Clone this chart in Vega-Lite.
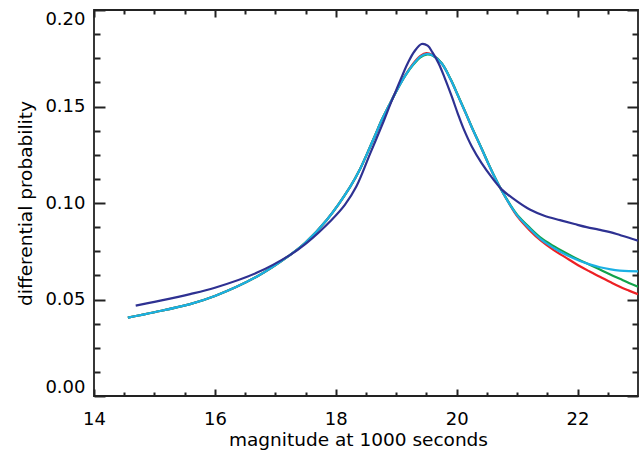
{
"$schema": "https://vega.github.io/schema/vega-lite/v6.json",
"width": 544, "height": 386,
"autosize": {"type": "none"},
"padding": {"left": 94, "top": 10, "right": 4, "bottom": 56},
"background": "white",
"config": {
  "view": {"stroke": "#222", "strokeWidth": 1.8},
  "axis": {"labelFont": "DejaVu Sans", "titleFont": "DejaVu Sans", "labelFontSize": 18, "titleFontSize": 18.5, "titleFontWeight": "normal", "labelColor": "#000", "titleColor": "#000", "domain": false, "grid": false}
},
"datasets": {
"curves": [
{"s":"red","m":14.56,"v":0.0406},{"s":"red","m":15.0,"v":0.0434},{"s":"red","m":15.59,"v":0.0476},{"s":"red","m":16.0,"v":0.0518},{"s":"red","m":16.69,"v":0.0618},{"s":"red","m":17.24,"v":0.0730},{"s":"red","m":17.5,"v":0.0795},{"s":"red","m":17.85,"v":0.0912},{"s":"red","m":18.24,"v":0.1085},{"s":"red","m":18.4,"v":0.1175},{"s":"red","m":18.52,"v":0.1257},{"s":"red","m":18.65,"v":0.135},{"s":"red","m":18.76,"v":0.143},{"s":"red","m":18.88,"v":0.1505},{"s":"red","m":19.02,"v":0.159},{"s":"red","m":19.15,"v":0.1662},{"s":"red","m":19.28,"v":0.1722},{"s":"red","m":19.4,"v":0.1762},{"s":"red","m":19.5,"v":0.1777},{"s":"red","m":19.6,"v":0.1767},{"s":"red","m":19.75,"v":0.1724},{"s":"red","m":19.9,"v":0.164},{"s":"red","m":20.03,"v":0.155},{"s":"red","m":20.15,"v":0.1465},{"s":"red","m":20.27,"v":0.1378},{"s":"red","m":20.4,"v":0.129},{"s":"red","m":20.52,"v":0.1206},{"s":"red","m":20.63,"v":0.1133},{"s":"red","m":20.74,"v":0.1067},{"s":"red","m":20.87,"v":0.0996},{"s":"red","m":21.0,"v":0.0932},{"s":"red","m":21.21,"v":0.0858},{"s":"red","m":21.4,"v":0.0803},{"s":"red","m":21.6,"v":0.0757},{"s":"red","m":21.8,"v":0.0718},{"s":"red","m":22.04,"v":0.0672},{"s":"red","m":22.2,"v":0.0645},{"s":"red","m":22.37,"v":0.0618},{"s":"red","m":22.55,"v":0.0589},{"s":"red","m":22.7,"v":0.0566},{"s":"red","m":22.85,"v":0.0546},{"s":"red","m":23.0,"v":0.0527},
{"s":"green","m":14.56,"v":0.0406},{"s":"green","m":15.0,"v":0.0434},{"s":"green","m":15.59,"v":0.0476},{"s":"green","m":16.0,"v":0.0518},{"s":"green","m":16.69,"v":0.0618},{"s":"green","m":17.24,"v":0.0730},{"s":"green","m":17.5,"v":0.0795},{"s":"green","m":17.85,"v":0.0912},{"s":"green","m":18.24,"v":0.1085},{"s":"green","m":18.4,"v":0.1175},{"s":"green","m":18.52,"v":0.1257},{"s":"green","m":18.65,"v":0.135},{"s":"green","m":18.76,"v":0.143},{"s":"green","m":18.88,"v":0.1505},{"s":"green","m":19.02,"v":0.159},{"s":"green","m":19.15,"v":0.166},{"s":"green","m":19.28,"v":0.1716},{"s":"green","m":19.4,"v":0.1755},{"s":"green","m":19.5,"v":0.1769},{"s":"green","m":19.6,"v":0.1764},{"s":"green","m":19.75,"v":0.1725},{"s":"green","m":19.9,"v":0.1642},{"s":"green","m":20.03,"v":0.1552},{"s":"green","m":20.15,"v":0.1467},{"s":"green","m":20.27,"v":0.138},{"s":"green","m":20.4,"v":0.1292},{"s":"green","m":20.52,"v":0.1208},{"s":"green","m":20.63,"v":0.1135},{"s":"green","m":20.74,"v":0.1068},{"s":"green","m":20.87,"v":0.0999},{"s":"green","m":21.0,"v":0.094},{"s":"green","m":21.21,"v":0.0872},{"s":"green","m":21.4,"v":0.0818},{"s":"green","m":21.6,"v":0.0778},{"s":"green","m":21.8,"v":0.0742},{"s":"green","m":22.04,"v":0.0703},{"s":"green","m":22.2,"v":0.068},{"s":"green","m":22.37,"v":0.0655},{"s":"green","m":22.55,"v":0.0628},{"s":"green","m":22.7,"v":0.0607},{"s":"green","m":22.85,"v":0.0586},{"s":"green","m":23.0,"v":0.0566},
{"s":"cyan","m":14.56,"v":0.0406},{"s":"cyan","m":15.0,"v":0.0434},{"s":"cyan","m":15.59,"v":0.0476},{"s":"cyan","m":16.0,"v":0.0518},{"s":"cyan","m":16.69,"v":0.0618},{"s":"cyan","m":17.24,"v":0.0730},{"s":"cyan","m":17.5,"v":0.0795},{"s":"cyan","m":17.85,"v":0.0912},{"s":"cyan","m":18.24,"v":0.1085},{"s":"cyan","m":18.4,"v":0.1175},{"s":"cyan","m":18.52,"v":0.1257},{"s":"cyan","m":18.65,"v":0.135},{"s":"cyan","m":18.76,"v":0.143},{"s":"cyan","m":18.88,"v":0.1505},{"s":"cyan","m":19.02,"v":0.159},{"s":"cyan","m":19.15,"v":0.166},{"s":"cyan","m":19.28,"v":0.1718},{"s":"cyan","m":19.4,"v":0.1758},{"s":"cyan","m":19.5,"v":0.1772},{"s":"cyan","m":19.6,"v":0.1765},{"s":"cyan","m":19.75,"v":0.1724},{"s":"cyan","m":19.9,"v":0.164},{"s":"cyan","m":20.03,"v":0.155},{"s":"cyan","m":20.15,"v":0.1465},{"s":"cyan","m":20.27,"v":0.1378},{"s":"cyan","m":20.4,"v":0.129},{"s":"cyan","m":20.52,"v":0.1206},{"s":"cyan","m":20.63,"v":0.1133},{"s":"cyan","m":20.74,"v":0.1067},{"s":"cyan","m":20.87,"v":0.0997},{"s":"cyan","m":21.0,"v":0.0936},{"s":"cyan","m":21.21,"v":0.0866},{"s":"cyan","m":21.4,"v":0.081},{"s":"cyan","m":21.6,"v":0.0768},{"s":"cyan","m":21.8,"v":0.0733},{"s":"cyan","m":22.04,"v":0.07},{"s":"cyan","m":22.2,"v":0.0682},{"s":"cyan","m":22.37,"v":0.0667},{"s":"cyan","m":22.55,"v":0.0656},{"s":"cyan","m":22.7,"v":0.065},{"s":"cyan","m":22.85,"v":0.0647},{"s":"cyan","m":23.0,"v":0.0646},
{"s":"navy","m":14.69,"v":0.0468},{"s":"navy","m":15.0,"v":0.0488},{"s":"navy","m":15.59,"v":0.0528},{"s":"navy","m":16.0,"v":0.0561},{"s":"navy","m":16.69,"v":0.0638},{"s":"navy","m":17.24,"v":0.073},{"s":"navy","m":17.5,"v":0.0788},{"s":"navy","m":17.93,"v":0.0912},{"s":"navy","m":18.15,"v":0.099},{"s":"navy","m":18.34,"v":0.1085},{"s":"navy","m":18.57,"v":0.1257},{"s":"navy","m":18.8,"v":0.143},{"s":"navy","m":18.9,"v":0.151},{"s":"navy","m":19.0,"v":0.1585},{"s":"navy","m":19.1,"v":0.166},{"s":"navy","m":19.2,"v":0.173},{"s":"navy","m":19.3,"v":0.1785},{"s":"navy","m":19.42,"v":0.1824},{"s":"navy","m":19.52,"v":0.1815},{"s":"navy","m":19.6,"v":0.178},{"s":"navy","m":19.7,"v":0.1724},{"s":"navy","m":19.8,"v":0.165},{"s":"navy","m":19.92,"v":0.1551},{"s":"navy","m":20.02,"v":0.1462},{"s":"navy","m":20.11,"v":0.1388},{"s":"navy","m":20.25,"v":0.1293},{"s":"navy","m":20.41,"v":0.1208},{"s":"navy","m":20.6,"v":0.1125},{"s":"navy","m":20.74,"v":0.1072},{"s":"navy","m":21.0,"v":0.1008},{"s":"navy","m":21.21,"v":0.0966},{"s":"navy","m":21.45,"v":0.0934},{"s":"navy","m":21.71,"v":0.0911},{"s":"navy","m":21.95,"v":0.0891},{"s":"navy","m":22.15,"v":0.0875},{"s":"navy","m":22.35,"v":0.0862},{"s":"navy","m":22.54,"v":0.0849},{"s":"navy","m":22.7,"v":0.0834},{"s":"navy","m":22.85,"v":0.082},{"s":"navy","m":23.0,"v":0.0805}
]
},
"data": {"name": "curves"},
"resolve": {"axis": {"x": "independent", "y": "independent"}},
"layer": [
  {
    "transform": [{"filter": "datum.s === 'red'"}],
    "mark": {"type": "line", "color": "#ED2024", "strokeWidth": 2.2, "interpolate": "catmull-rom", "clip": true},
    "encoding": {
      "x": {"field": "m", "type": "quantitative", "scale": {"domain": [14, 23], "nice": false, "zero": false},
            "axis": {"orient": "bottom", "values": [14, 16, 18, 20, 22], "format": "d", "offset": -7, "ticks": true, "tickSize": 7, "tickWidth": 2, "tickColor": "#222", "labelPadding": 14, "labelFlush": false, "labelOverlap": false, "title": "magnitude at 1000 seconds", "titlePadding": 2, "titleX": 264}},
      "y": {"field": "v", "type": "quantitative", "scale": {"domain": [0, 0.2], "nice": false, "zero": false},
            "axis": {"orient": "left", "values": [0, 0.05, 0.1, 0.15, 0.2], "format": ".2f", "offset": -11, "ticks": true, "tickSize": 11, "tickWidth": 2, "tickColor": "#222", "labelPadding": 9, "labelFlush": true, "labelOverlap": false, "title": "differential probability", "titlePadding": 9}}
    }
  },
  {
    "transform": [{"filter": "datum.s === 'green'"}],
    "mark": {"type": "line", "color": "#12A24A", "strokeWidth": 2.2, "interpolate": "catmull-rom", "clip": true},
    "encoding": {
      "x": {"field": "m", "type": "quantitative", "axis": {"orient": "top", "values": [14, 16, 18, 20, 22], "offset": -7, "ticks": true, "tickSize": 7, "tickWidth": 2, "tickColor": "#222", "labels": false, "title": null}},
      "y": {"field": "v", "type": "quantitative", "axis": {"orient": "right", "values": [0, 0.05, 0.1, 0.15, 0.2], "offset": -11, "ticks": true, "tickSize": 11, "tickWidth": 2, "tickColor": "#222", "labels": false, "title": null}}
    }
  },
  {
    "transform": [{"filter": "datum.s === 'cyan'"}],
    "mark": {"type": "line", "color": "#1BB0E4", "strokeWidth": 2.2, "interpolate": "catmull-rom", "clip": true},
    "encoding": {
      "x": {"field": "m", "type": "quantitative", "axis": {"orient": "bottom", "values": [14.5, 15, 15.5, 16.5, 17, 17.5, 18.5, 19, 19.5, 20.5, 21, 21.5, 22.5], "offset": -4, "ticks": true, "tickSize": 4, "tickWidth": 2, "tickColor": "#222", "labels": false, "title": null}},
      "y": {"field": "v", "type": "quantitative", "axis": {"orient": "left", "values": [0.0125, 0.025, 0.0375, 0.0625, 0.075, 0.0875, 0.1125, 0.125, 0.1375, 0.1625, 0.175, 0.1875], "offset": -6, "ticks": true, "tickSize": 6, "tickWidth": 2, "tickColor": "#222", "labels": false, "title": null}}
    }
  },
  {
    "transform": [{"filter": "datum.s === 'navy'"}],
    "mark": {"type": "line", "color": "#2E3192", "strokeWidth": 2.2, "interpolate": "catmull-rom", "clip": true},
    "encoding": {
      "x": {"field": "m", "type": "quantitative", "axis": {"orient": "top", "values": [14.5, 15, 15.5, 16.5, 17, 17.5, 18.5, 19, 19.5, 20.5, 21, 21.5, 22.5], "offset": -4, "ticks": true, "tickSize": 4, "tickWidth": 2, "tickColor": "#222", "labels": false, "title": null}},
      "y": {"field": "v", "type": "quantitative", "axis": {"orient": "right", "values": [0.0125, 0.025, 0.0375, 0.0625, 0.075, 0.0875, 0.1125, 0.125, 0.1375, 0.1625, 0.175, 0.1875], "offset": -6, "ticks": true, "tickSize": 6, "tickWidth": 2, "tickColor": "#222", "labels": false, "title": null}}
    }
  }
]
}
